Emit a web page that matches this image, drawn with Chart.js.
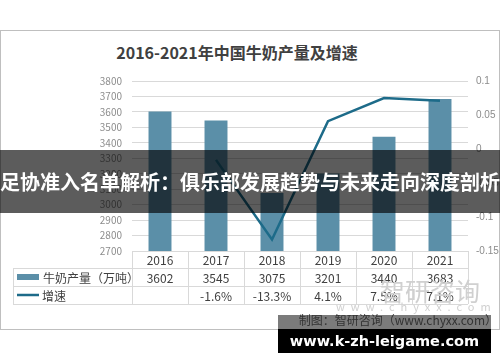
<!DOCTYPE html>
<html>
<head>
<meta charset="utf-8">
<script src="https://cdn.jsdelivr.net/npm/chart.js@4"></script>
<style>
    html, body { margin: 0; padding: 0; background: #fff; }
    body { width: 500px; height: 362px; position: relative; overflow: hidden; font-family: "Noto Sans CJK SC", sans-serif; }
    #frame { position: absolute; left: 0; top: 30px; width: 498px; height: 298px; border: 1px solid #bfbfbf; }
    #wrap { position: absolute; left: 0; top: 0; width: 500px; height: 362px; }
    #title { position: absolute; left: 0; width: 474px; top: 40px; text-align: center; font-weight: 700; font-size: 16px; color: #404040; }
    .wm { position: absolute; color: #d0d0d0; white-space: nowrap; }
    #banner { position: absolute; left: 0; top: 150px; width: 500px; height: 63px; background: rgba(0,0,0,0.64);
              color: #fff; font-weight: 700; font-size: 20px; line-height: 63px; text-align: center; white-space: nowrap; }
    #srcband { position: absolute; left: 278px; top: 315px; width: 213px; height: 14px; background: #7b7b7b; }
    #src { position: absolute; right: 3px; top: 311px; font-size: 12px; color: #333; white-space: nowrap; }
    #site { position: absolute; left: 278px; top: 329px; width: 213px; height: 24px; background: #000; color: #fff; white-space: nowrap;
            font-family: "DejaVu Sans", sans-serif; font-weight: 700; font-size: 14.5px; line-height: 24px; text-align: center; }
</style>
</head>
<body>
<div id="frame"></div>
<div id="title">2016-2021年中国牛奶产量及增速</div>
<div id="wrap"><canvas id="c" width="500" height="362"></canvas></div>
<div class="wm" style="left:380px; top:272px; font-size:25px;">智研咨询</div>
<div class="wm" style="left:336px; top:298px; font-size:11px; letter-spacing:6px;">www.chyxx.com</div>
<div id="banner">足协准入名单解析：俱乐部发展趋势与未来走向深度剖析</div>
<div id="srcband"></div>
<div id="src">制图：智研咨询（www.chyxx.com）</div>
<div id="site">www.k-zh-leigame.com</div>

<script>
const years = ['2016', '2017', '2018', '2019', '2020', '2021'];
const output = [3602, 3545, 3075, 3201, 3440, 3683];
const growth = [null, -0.016, -0.133, 0.041, 0.075, 0.071];
const growthLabels = ['', '-1.6%', '-13.3%', '4.1%', '7.5%', '7.1%'];
const seriesNames = ['牛奶产量（万吨）', '增速'];
const leftTicks = [2700, 2800, 2900, 3000, 3100, 3200, 3300, 3400, 3500, 3600, 3700, 3800];
const rightTicks = [-0.15, -0.1, -0.05, 0, 0.05, 0.1];
const rightTickLabels = ['-0.15', '-0.1', '-0.05', '0', '0.05', '0.1'];

const barColor = '#5b8fa8';
const lineColor = '#1d6b89';
const gridColor = '#d9d9d9';
const axisFont = { size: 10, family: '"Noto Sans CJK SC", sans-serif' };

// right axis labels + data table under the plot, placed with the chart's scales
const tablePlugin = {
    id: 'dataTable',
    afterDraw(chart) {
        const ctx = chart.ctx;
        const x = chart.scales.x;
        const y1 = chart.scales.y1;
        const area = chart.chartArea;
        const rows = [area.bottom, area.bottom + 17, area.bottom + 35, area.bottom + 53];
        const legendLeft = 13;
        const half = (area.right - area.left) / years.length / 2;

        ctx.save();
        ctx.fillStyle = '#8c8c8c';
        ctx.font = '10px "Liberation Sans", sans-serif';
        ctx.textAlign = 'left';
        ctx.textBaseline = 'middle';
        rightTicks.forEach((v, i) => {
            ctx.fillText(rightTickLabels[i], area.right + 8, y1.getPixelForValue(v));
        });

        ctx.strokeStyle = gridColor;
        ctx.lineWidth = 1;
        ctx.beginPath();
        ctx.moveTo(area.left, rows[0] + 0.5);
        ctx.lineTo(area.right, rows[0] + 0.5);
        for (let r = 1; r < rows.length; r++) {
            ctx.moveTo(legendLeft, rows[r] + 0.5);
            ctx.lineTo(area.right, rows[r] + 0.5);
        }
        ctx.moveTo(legendLeft + 0.5, rows[1]);
        ctx.lineTo(legendLeft + 0.5, rows[3]);
        for (let i = 0; i <= years.length; i++) {
            const px = Math.round(i < years.length ? x.getPixelForValue(i) - half : x.getPixelForValue(i - 1) + half) + 0.5;
            ctx.moveTo(px, rows[0]);
            ctx.lineTo(px, rows[3]);
        }
        ctx.stroke();

        ctx.fillStyle = '#404040';
        ctx.font = '12px "Noto Sans CJK SC", sans-serif';
        ctx.textAlign = 'center';
        years.forEach((y, i) => {
            const px = x.getPixelForValue(i);
            ctx.fillText(y, px, (rows[0] + rows[1]) / 2 + 1);
            ctx.fillText(String(output[i]), px, (rows[1] + rows[2]) / 2 + 1);
            ctx.fillText(growthLabels[i], px, (rows[2] + rows[3]) / 2 + 1);
        });

        // legend keys
        ctx.fillStyle = barColor;
        ctx.fillRect(17, rows[1] + 6, 22, 6);
        ctx.strokeStyle = lineColor;
        ctx.lineWidth = 2.5;
        ctx.beginPath();
        ctx.moveTo(17, (rows[2] + rows[3]) / 2);
        ctx.lineTo(39, (rows[2] + rows[3]) / 2);
        ctx.stroke();
        ctx.fillStyle = '#404040';
        ctx.textAlign = 'left';
        ctx.fillText(seriesNames[0], 43, (rows[1] + rows[2]) / 2 + 1);
        ctx.fillText(seriesNames[1], 42, (rows[2] + rows[3]) / 2 + 1);
        ctx.restore();
    }
};

new Chart(document.getElementById('c'), {
    data: {
        labels: years,
        datasets: [
            {
                type: 'line',
                label: seriesNames[1],
                data: growth,
                yAxisID: 'y1',
                borderColor: lineColor,
                borderWidth: 2.5,
                pointRadius: 0,
                tension: 0,
                order: 0
            },
            {
                type: 'bar',
                label: seriesNames[0],
                data: output,
                yAxisID: 'y',
                backgroundColor: barColor,
                categoryPercentage: 1,
                barPercentage: 0.41,
                order: 1
            }
        ]
    },
    options: {
        responsive: false,
        animation: false,
        layout: { padding: { top: 81, bottom: 111, left: 0, right: 0 } },
        plugins: {
            legend: { display: false },
            tooltip: { enabled: false }
        },
        scales: {
            x: { display: false },
            y: {
                position: 'left',
                min: 2700,
                max: 3800,
                afterFit(scale) { scale.width = 132; },
                afterBuildTicks(scale) { scale.ticks = leftTicks.map(v => ({ value: v })); },
                ticks: {
                    autoSkip: false,
                    padding: 10,
                    color: '#8c8c8c',
                    font: axisFont,
                    callback: v => String(v)
                },
                grid: { color: gridColor, drawTicks: false },
                border: { display: false }
            },
            y1: {
                position: 'right',
                min: -0.15,
                max: 0.1,
                afterFit(scale) { scale.width = 32; },
                ticks: { display: false },
                grid: { display: false, drawTicks: false },
                border: { display: false }
            }
        }
    },
    plugins: [tablePlugin]
});
</script>
</body>
</html>
